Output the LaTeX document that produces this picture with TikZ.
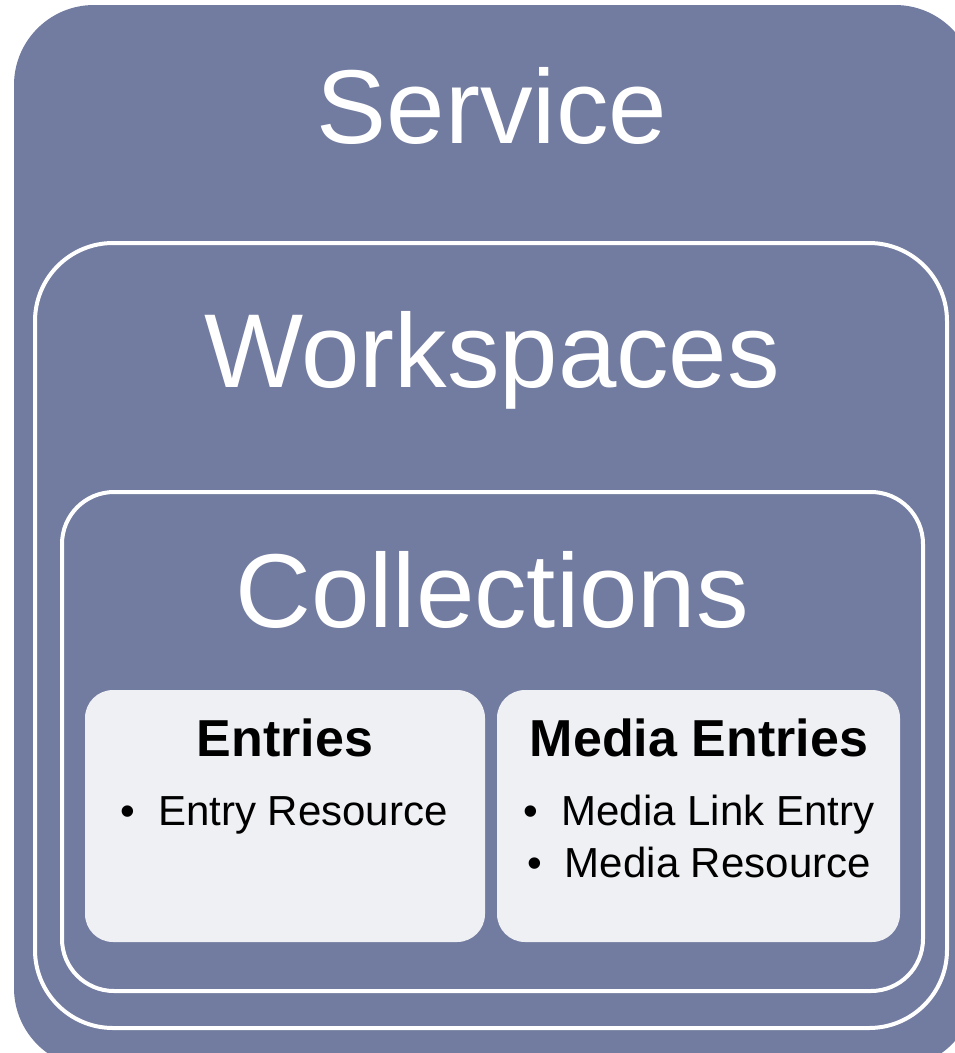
\documentclass[tikz,border=0pt]{standalone}
\usepackage{fontspec}
\setmainfont{Liberation Sans}

\definecolor{slate}{RGB}{114,123,160}
\definecolor{paper}{RGB}{239,240,244}

\tikzset{
    title/.style   = {anchor=base, inner sep=0pt, text=white, font=\fontsize{105}{120}\selectfont},
    heading/.style = {anchor=base, inner sep=0pt, font=\bfseries\fontsize{52}{60}\selectfont},
    item/.style    = {anchor=base, inner sep=0pt, font=\fontsize{42}{50}\selectfont},
    frame/.style   = {draw=white, line width=4pt},
}

\begin{document}
\begin{tikzpicture}[x=1pt, y=-1pt]
    \useasboundingbox (0,0) rectangle (955,1053);
    \clip (0,0) rectangle (955,1053);

    \def\servicebox    {(14,5) rectangle (975,1068)}
    \def\workspacebox  {(35,243) rectangle (947,1028)}
    \def\collectionbox {(62,492) rectangle (923,991)}
    \def\entrybox      {(85,690) rectangle (485,942)}
    \def\mediabox      {(497,690) rectangle (900,942)}

    \fill[slate, rounded corners=80pt] \servicebox;     % Outer service
    \draw[frame, rounded corners=78pt] \workspacebox;   % Workspaces
    \draw[frame, rounded corners=52pt] \collectionbox;  % Collections
    \fill[paper, rounded corners=28pt] \entrybox;       % Entries
    \fill[paper, rounded corners=28pt] \mediabox;       % Media entries

    \node[title] (service)     at (492,143) {Service};
    \node[title] (workspaces)  at (492,387) {Workspaces};
    \node[title] (collections) at (492,627) {Collections};

    \node[heading] (entries) at (285,756) {Entries};
    \node[item]    (entryres) at (284,825) {•\hspace{0.55em}Entry Resource};

    \node[heading] (mediaentries) at (699,756) {Media Entries};
    \node[item]    (medialink)    at (699,825) {•\hspace{0.55em}Media Link Entry};
    \node[item]    (mediares)     at (699,877) {•\hspace{0.55em}Media Resource};
\end{tikzpicture}
\end{document}
